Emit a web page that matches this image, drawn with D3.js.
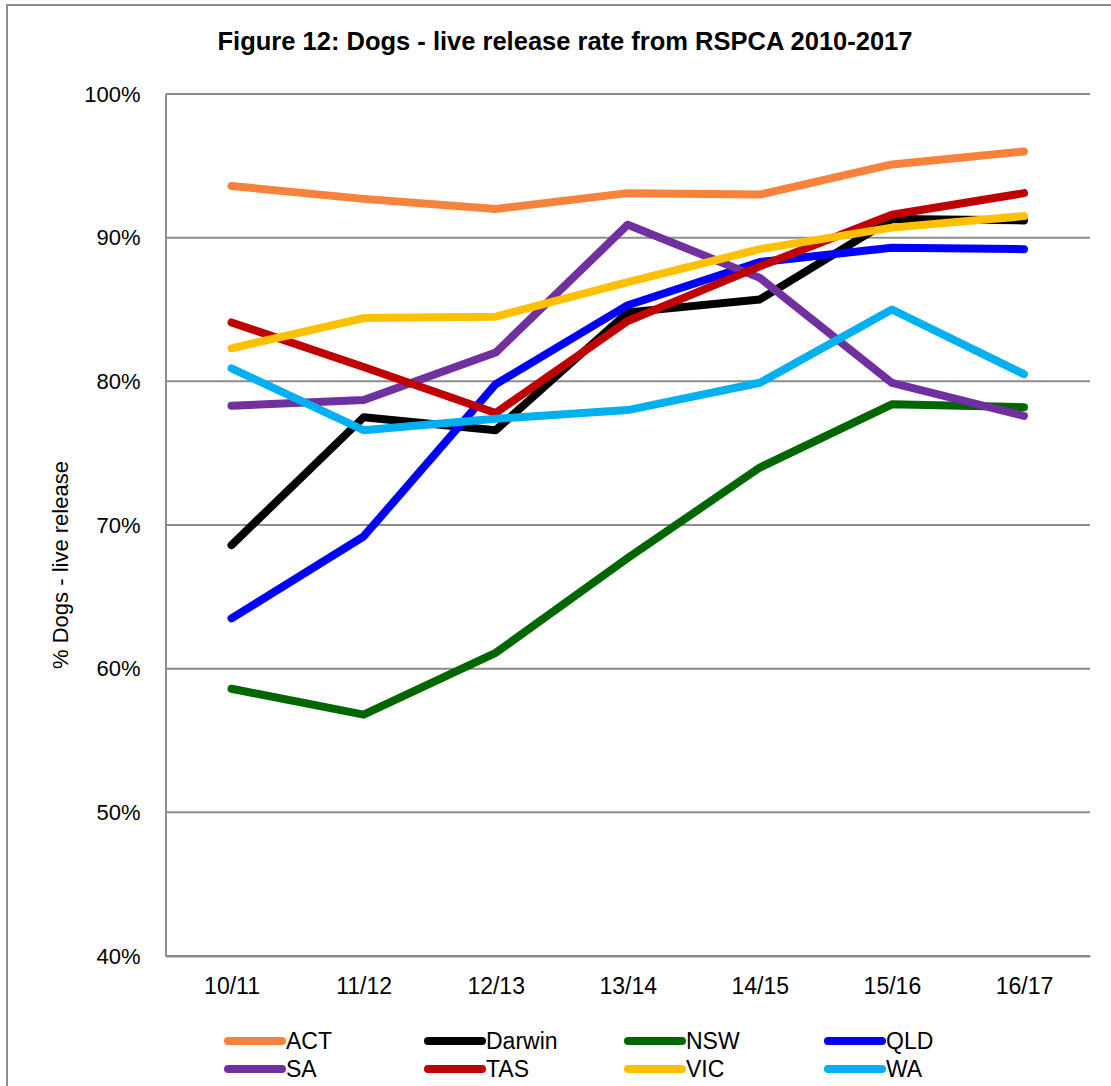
<!DOCTYPE html>
<html>
<head>
<meta charset="utf-8">
<script src="https://cdn.jsdelivr.net/npm/d3@7"></script>
<style>
  html, body { margin: 0; padding: 0; background: #fff; }
  svg { display: block; font-family: "Liberation Sans", Arial, sans-serif; }
</style>
</head>
<body>
<svg id="chart" width="1111" height="1086"></svg>
<script>
// Financial years on the x axis
const years = ["10/11", "11/12", "12/13", "13/14", "14/15", "15/16", "16/17"];

// Live release rate (%) per RSPCA branch
const seriesNames = ["ACT", "Darwin", "NSW", "QLD", "SA", "TAS", "VIC", "WA"];
const actValues    = [93.6, 92.7, 92.0, 93.1, 93.0, 95.1, 96.0];
const darwinValues = [68.6, 77.5, 76.6, 84.8, 85.7, 91.3, 91.2];
const nswValues    = [58.6, 56.8, 61.1, 67.7, 74.0, 78.4, 78.2];
const qldValues    = [63.5, 69.2, 79.8, 85.3, 88.3, 89.3, 89.2];
const saValues     = [78.3, 78.7, 82.0, 90.9, 87.2, 79.9, 77.6];
const tasValues    = [84.1, 81.0, 77.8, 84.2, 88.0, 91.6, 93.1];
const vicValues    = [82.3, 84.4, 84.5, 86.9, 89.2, 90.7, 91.5];
const waValues     = [80.9, 76.6, 77.4, 78.0, 79.9, 85.0, 80.5];
const seriesColors = ["#F6823B", "#000000", "#006600", "#0000FF", "#7030A0", "#C00000", "#FFC000", "#00B0F0"];

// Y axis ticks
const yTicks = [40, 50, 60, 70, 80, 90, 100];

const series = seriesNames.map((name, i) => ({
  name,
  color: seriesColors[i],
  values: [actValues, darwinValues, nswValues, qldValues, saValues, tasValues, vicValues, waValues][i]
}));

const svg = d3.select("#chart");

// Outer chart frame (runs past the right and bottom edges)
svg.append("rect")
  .attr("x", 7).attr("y", 5)
  .attr("width", 1130).attr("height", 1110)
  .attr("fill", "none")
  .attr("stroke", "#8c8c8c")
  .attr("stroke-width", 2);

const plot = { left: 165.5, right: 1090, top: 94, bottom: 956 };

const x = d3.scalePoint()
  .domain(years)
  .range([plot.left, plot.right])
  .padding(0.5);

const y = d3.scaleLinear()
  .domain([40, 100])
  .range([plot.bottom, plot.top]);

// Title
svg.append("text")
  .attr("x", 565).attr("y", 50)
  .attr("text-anchor", "middle")
  .attr("font-weight", "bold")
  .attr("font-size", 25.5)
  .attr("fill", "#000")
  .text("Figure 12: Dogs - live release rate from RSPCA 2010-2017");

// Horizontal gridlines
svg.append("g")
  .selectAll("line")
  .data(yTicks)
  .join("line")
  .attr("x1", plot.left).attr("x2", plot.right)
  .attr("y1", d => y(d)).attr("y2", d => y(d))
  .attr("stroke", "#8c8c8c")
  .attr("stroke-width", 2);

// Y axis
const yAxis = svg.append("g")
  .attr("transform", `translate(${plot.left},0)`)
  .call(d3.axisLeft(y).tickValues(yTicks).tickFormat(d => d + "%").tickSize(0).tickPadding(25));
yAxis.select(".domain").attr("stroke", "#8c8c8c").attr("stroke-width", 2);
yAxis.selectAll("text")
  .attr("font-size", 22)
  .attr("fill", "#000")
  .attr("font-family", "Liberation Sans, Arial, sans-serif");

// X axis
const xAxis = svg.append("g")
  .attr("transform", `translate(0,${plot.bottom})`)
  .call(d3.axisBottom(x).tickSize(0).tickPadding(22));
xAxis.select(".domain").attr("stroke", "#8c8c8c").attr("stroke-width", 2);
xAxis.selectAll("text")
  .attr("font-size", 23)
  .attr("fill", "#000")
  .attr("font-family", "Liberation Sans, Arial, sans-serif");

// Y axis title
svg.append("text")
  .attr("transform", "translate(68,565) rotate(-90)")
  .attr("text-anchor", "middle")
  .attr("font-size", 22)
  .attr("fill", "#000")
  .text("% Dogs - live release");

// Series lines
const line = d3.line()
  .x((d, i) => x(years[i]))
  .y(d => y(d));

svg.append("g")
  .selectAll("path")
  .data(series)
  .join("path")
  .attr("d", d => line(d.values))
  .attr("fill", "none")
  .attr("stroke", d => d.color)
  .attr("stroke-width", 8)
  .attr("stroke-linecap", "round")
  .attr("stroke-linejoin", "round");

// Legend: two rows of four
const legend = svg.append("g");
const item = legend.selectAll("g")
  .data(series)
  .join("g")
  .attr("transform", (d, i) => `translate(${228 + (i % 4) * 200},${1041 + Math.floor(i / 4) * 28})`);
item.append("line")
  .attr("x1", 0).attr("x2", 54)
  .attr("y1", 0).attr("y2", 0)
  .attr("stroke", d => d.color)
  .attr("stroke-width", 8)
  .attr("stroke-linecap", "round");
item.append("text")
  .attr("x", 58).attr("y", 8)
  .attr("font-size", 23)
  .attr("fill", "#000")
  .text(d => d.name);
</script>
</body>
</html>
